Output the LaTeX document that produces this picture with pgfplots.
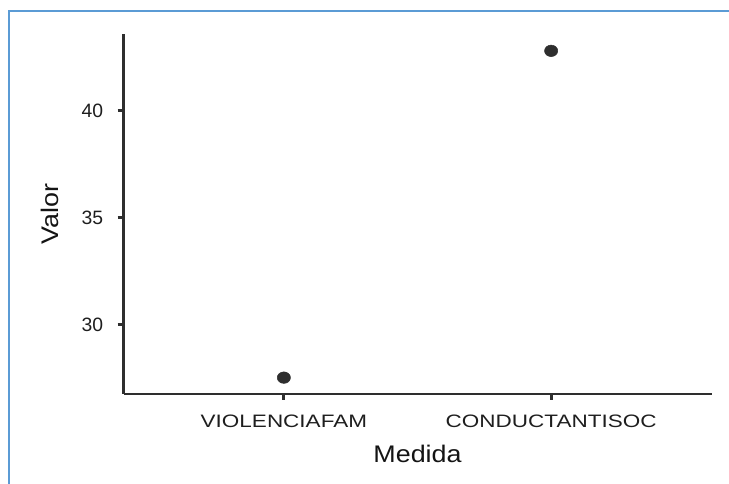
\documentclass[border=0pt]{standalone}
\usepackage{pgfplots}
\pgfplotsset{compat=1.18}
\usepackage{fontspec}
\setmainfont{Liberation Sans}
\newfontfamily\catfont[FakeStretch=1.25]{Liberation Sans}
\newfontfamily\labfont[FakeStretch=1.12]{Liberation Sans}
\definecolor{axgray}{HTML}{2E2E2E}
\definecolor{txtgray}{HTML}{1E1E1E}
\definecolor{frameblue}{HTML}{5B9BD5}
\begin{document}
\begin{tikzpicture}
\path[use as bounding box] (0,0) rectangle (546.75pt,363pt);
\draw[frameblue, line width=1.5pt] (6.4pt,0) -- (6.4pt,355.1pt) -- (546.75pt,355.1pt);
\begin{axis}[
  at={(92.625pt,67.5pt)}, anchor=south west,
  scale only axis, width=441pt, height=269.625pt,
  xmin=-0.6, xmax=1.6, ymin=26.745, ymax=43.565,
  axis lines=left,
  axis line style={axgray, line width=2.1pt, -},
  xtick={0,1}, xticklabels={VIOLENCIAFAM,CONDUCTANTISOC},
  ytick={30,35,40},
  tick align=outside, major tick length=4.5pt,
  tick style={axgray, line width=2.1pt},
  /pgf/number format/assume math mode=true,
  yticklabel style={font=\fontsize{14.5}{15}\selectfont, text=txtgray, anchor=east, inner sep=0pt, xshift=-10.5pt},
  xticklabel style={font=\catfont\fontsize{13.5}{14}\selectfont, text=txtgray, anchor=base, inner sep=0pt, yshift=-20.5pt},
  xlabel={Medida}, ylabel={Valor},
  xlabel style={font=\labfont\fontsize{18}{20}\selectfont, text=black!92, at={(axis description cs:0.5,-0.1919)}, anchor=base, inner sep=0pt},
  ylabel style={font=\labfont\fontsize{18}{20}\selectfont, text=black!92, at={(axis description cs:-0.1113,0.5)}, anchor=base, inner sep=0pt},
  clip=false,
]
\addplot[only marks, mark=*, mark size=4.3pt, color=axgray, mark options={fill=axgray, draw=axgray, xscale=1.15}] coordinates {(0,27.51) (1,42.80)};
\end{axis}
\end{tikzpicture}
\end{document}
